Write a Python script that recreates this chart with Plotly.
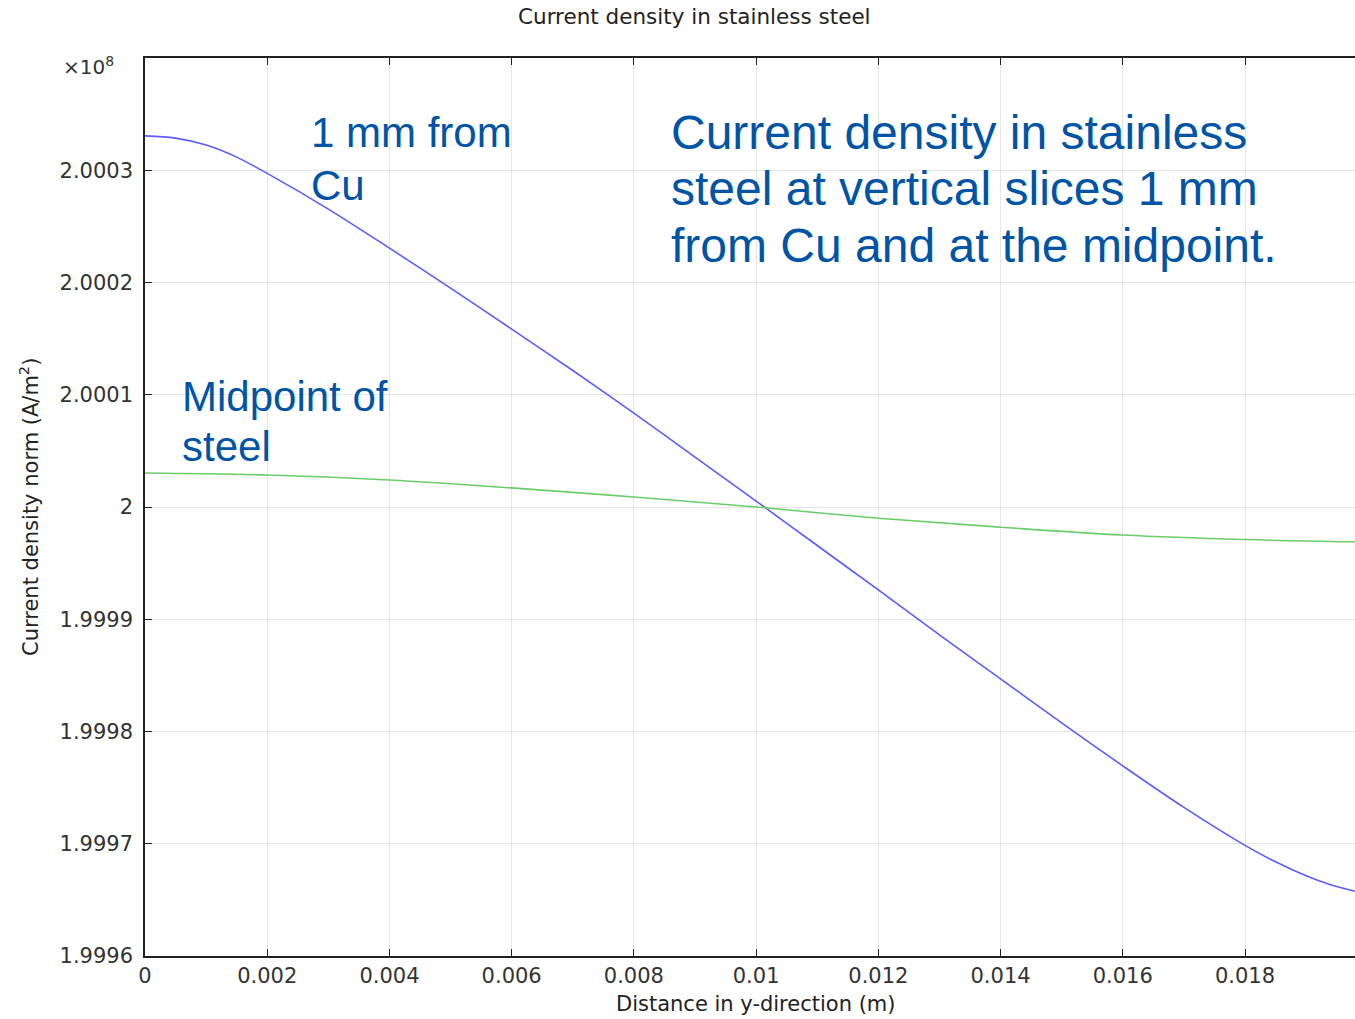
import plotly.graph_objects as go

# Data (current density norm in units of 1e8 A/m^2)
x_vals = [0.0, 0.0005, 0.001, 0.0015, 0.002, 0.003, 0.004, 0.005, 0.006, 0.007, 0.008, 0.009,
          0.010, 0.011, 0.012, 0.013, 0.014, 0.015, 0.016, 0.017, 0.018, 0.0185, 0.019, 0.0194, 0.0198]
near_cu = [2.0003306, 2.0003286, 2.0003224, 2.0003117, 2.0002972, 2.0002654, 2.0002306, 2.0001950,
           2.0001585, 2.0001216, 2.0000837, 2.0000445, 2.0000053, 1.9999657, 1.9999261, 1.9998860,
           1.9998468, 1.9998077, 1.9997694, 1.9997324, 1.9996986, 1.9996839, 1.9996714, 1.9996634,
           1.9996576]
x_mid = [0.0, 0.002, 0.004, 0.006, 0.008, 0.010, 0.012, 0.014, 0.016, 0.018, 0.0198]
midpoint = [2.0000303, 2.0000285, 2.0000240, 2.0000170, 2.0000089, 2.0000000,
            1.9999900, 1.9999820, 1.9999750, 1.9999710, 1.9999690]

x_ticks = [0, 0.002, 0.004, 0.006, 0.008, 0.010, 0.012, 0.014, 0.016, 0.018]
x_tick_text = ["0", "0.002", "0.004", "0.006", "0.008", "0.01", "0.012", "0.014", "0.016", "0.018"]
y_ticks = [1.9996, 1.9997, 1.9998, 1.9999, 2.0, 2.0001, 2.0002, 2.0003]
y_tick_text = ["1.9996", "1.9997", "1.9998", "1.9999", "2", "2.0001", "2.0002", "2.0003"]

W, H = 1355, 1019
L, R, T, B = 145, 0, 58, 63
pw, ph = W - L - R, H - T - B

def px(xp):
    return (xp - L) / pw

def py(yp):
    return (H - B - yp) / ph

fig = go.Figure()
fig.add_trace(go.Scatter(x=x_vals, y=near_cu, mode="lines",
                         line=dict(color="#5c5cff", width=1.6, shape="spline", smoothing=0.9),
                         showlegend=False, hoverinfo="skip"))
fig.add_trace(go.Scatter(x=x_mid, y=midpoint, mode="lines",
                         line=dict(color="#6acd6a", width=1.6, shape="spline", smoothing=1),
                         showlegend=False, hoverinfo="skip"))

axis_font = dict(family="DejaVu Sans", size=21, color="#333333")
fig.update_xaxes(range=[0, 0.0198], tickvals=x_ticks, ticktext=x_tick_text, ticks="inside", ticklen=7,
                 tickcolor="#222", showline=True, linecolor="#222", linewidth=1.5, mirror="ticks",
                 showgrid=True, gridcolor="#e6e6e6", gridwidth=1, zeroline=False, tickfont=axis_font)
fig.update_yaxes(range=[1.9996, 2.0004], tickvals=y_ticks, ticktext=y_tick_text, ticks="inside", ticklen=7,
                 tickcolor="#222", showline=True, linecolor="#222", linewidth=1.5, mirror=False,
                 showgrid=True, gridcolor="#e6e6e6", gridwidth=1, zeroline=False, tickfont=axis_font,
                 ticklabelstandoff=6)

blue = "#0054a6"
ann = []
def text(t, xp, yp, size, color=blue, family="Liberation Sans, Arial", xanchor="left", angle=0):
    ann.append(dict(text=t, x=px(xp), y=py(yp), xref="paper", yref="paper", showarrow=False,
                    xanchor=xanchor, yanchor="middle", textangle=angle,
                    font=dict(family=family, size=size, color=color)))

text("1 mm from", 309, 133, 42)
text("Cu", 309, 185, 42)
text("Midpoint of", 180, 396, 42)
text("steel", 180, 447, 42)
text("Current density in stainless", 669, 132, 48)
text("steel at vertical slices 1 mm", 669, 189, 48)
text("from Cu and at the midpoint.", 669, 246, 48)
text("Current density in stainless steel", 694, 17, 21.5, color="#222222", family="DejaVu Sans", xanchor="center")
text("Distance in y-direction (m)", 756, 1004, 21, color="#222222", family="DejaVu Sans", xanchor="center")
text("Current density norm (A/m<sup>2</sup>)", 29, 507, 21, color="#222222", family="DejaVu Sans",
     xanchor="center", angle=-90)
text("×10<sup>8</sup>", 88, 66, 20, color="#333333", family="DejaVu Sans", xanchor="center")

fig.update_layout(width=W, height=H, margin=dict(l=L, r=R, t=T, b=B), plot_bgcolor="white",
                  paper_bgcolor="white", annotations=ann)

fig.write_html("out.html")
